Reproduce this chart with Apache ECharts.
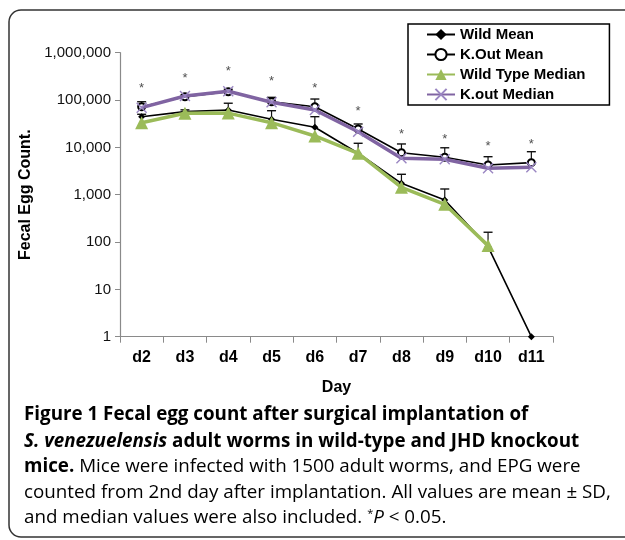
<!DOCTYPE html>
<html>
<head>
<meta charset="utf-8">
<script src="https://cdn.jsdelivr.net/npm/echarts@6/dist/echarts.min.js"></script>
<style>
html,body{margin:0;padding:0;background:#fff;}
#chart{width:625px;height:540px;}
</style>
</head>
<body>
<div id="chart"></div>
<script>
const days = ['d2','d3','d4','d5','d6','d7','d8','d9','d10','d11'];
const wildMean   = [44500, 56800, 61600, 39200, 26600, 7500, 1740, 773, 80, 1];
const koMean     = [72000, 117000, 150000, 92000, 72000, 24400, 7700, 6170, 4250, 4750];
const wildMedian = [33200, 52500, 53000, 33200, 17400, 7500, 1435, 627, 84, null];
const koMedian   = [69000, 122000, 153000, 90000, 61600, 21400, 5870, 5600, 3610, 3800];
// upper ends of the SD error bars (mean + SD)
const wildMeanTop = [50000, 62000, 85600, 59500, 44500, 12200, 2700, 1320, 161, null];
const koMeanTop   = [92000, 128000, 169000, 114000, 105000, 31200, 11800, 9800, 6350, 8100];
// positions of the significance asterisks
const starLevel   = [203000, 333000, 460000, 284000, 203000, 67000, 21700, 17100, 12400, 13400];
const yTicks = [1, 10, 100, 1000, 10000, 100000, 1000000];

const chart = echarts.init(document.getElementById('chart'), null, {renderer:'canvas'});

function errData(mean, top){
  const out = [];
  mean.forEach((m,i)=>{ if(m!=null && top[i]!=null) out.push([i, m, top[i]]); });
  return out;
}
function errRender(params, api){
  const p1 = api.coord([api.value(0), api.value(1)]);
  const p2 = api.coord([api.value(0), api.value(2)]);
  return {type:'group', children:[
    {type:'line', shape:{x1:p1[0],y1:p1[1],x2:p2[0],y2:p2[1]}, style:{stroke:'#111',lineWidth:1.2}},
    {type:'line', shape:{x1:p2[0]-4.5,y1:p2[1],x2:p2[0]+4.5,y2:p2[1]}, style:{stroke:'#111',lineWidth:1.4}}
  ]};
}

const capFont = '"Open Sans", "Noto Sans", sans-serif';
const capY = [415, 441.5, 467, 492.5, 518];
const capSize = 18.8;
function capLine(text, y, rich){
  return {type:'text', x:24, y:y, style:{text:text, rich:rich, verticalAlign:'middle', align:'left'}, z:10};
}
const richBase = {
  b:{fontFamily:capFont, fontWeight:'bold', fontSize:capSize, color:'#231f20'},
  bi:{fontFamily:capFont, fontWeight:'bold', fontStyle:'italic', fontSize:capSize, color:'#231f20'},
  r:{fontFamily:capFont, fontWeight:'normal', fontSize:capSize, color:'#444'},
  ri:{fontFamily:capFont, fontWeight:'normal', fontStyle:'italic', fontSize:capSize, color:'#444'},
  sup:{fontFamily:capFont, fontSize:11, color:'#444', verticalAlign:'top', padding:[0,0,9,0]}
};

const option = {
  animation:false,
  backgroundColor:'#fff',
  grid:{left:120, right:72, top:52.7, bottom:203.3},
  legend:{
    orient:'vertical', left:408, top:24,
    data:['Wild Mean','K.Out Mean','Wild Type Median','K.out Median'],
    itemWidth:28, itemHeight:14, itemGap:5,
    padding:[3,24,3,18],
    borderColor:'#000', borderWidth:1.5, backgroundColor:'#fff',
    textStyle:{fontFamily:'"Liberation Sans", Arial, sans-serif', fontWeight:'bold', fontSize:15, color:'#000'}
  },
  xAxis:{
    type:'category', data:days, boundaryGap:true,
    name:'Day', nameLocation:'middle', nameGap:43,
    nameTextStyle:{fontFamily:'"Liberation Sans", Arial, sans-serif', fontWeight:'bold', fontSize:16, color:'#000'},
    axisLine:{show:true, lineStyle:{color:'#8a8a8a', width:1.2}},
    axisTick:{show:true, length:6, alignWithLabel:false, lineStyle:{color:'#8a8a8a'}},
    axisLabel:{margin:13, fontFamily:'"Liberation Sans", Arial, sans-serif', fontWeight:'bold', fontSize:16, color:'#000'},
    splitLine:{show:false}
  },
  yAxis:{
    type:'log', logBase:10, min:1, max:1000000,
    name:'Fecal Egg Count.', nameLocation:'middle', nameGap:77, nameRotate:90,
    nameTextStyle:{fontFamily:'"Liberation Sans", Arial, sans-serif', fontWeight:'bold', fontSize:16, color:'#000'},
    axisLine:{show:true, lineStyle:{color:'#8a8a8a', width:1.2}},
    axisTick:{show:true, length:5, lineStyle:{color:'#8a8a8a'}},
    minorTick:{show:false},
    splitLine:{show:false},
    axisLabel:{margin:9, fontFamily:'"Liberation Sans", Arial, sans-serif', fontSize:15, color:'#111',
      formatter:function(v){ const r = Math.round(v); return yTicks.indexOf(r)>=0 ? r.toLocaleString('en-US') : ''; }}
  },
  series:[
    {type:'custom', name:'wildErr', renderItem:errRender, data:errData(wildMean, wildMeanTop), encode:{x:0,y:[1,2]}, z:1, silent:true},
    {type:'custom', name:'koErr', renderItem:errRender, data:errData(koMean, koMeanTop), encode:{x:0,y:[1,2]}, z:1, silent:true},
    {type:'line', name:'Wild Mean', data:wildMean, symbol:'diamond', symbolSize:7,
      itemStyle:{color:'#000'}, lineStyle:{color:'#000', width:1.6}, z:2},
    {type:'line', name:'K.Out Mean', data:koMean, symbol:'emptyCircle', symbolSize:7,
      itemStyle:{color:'#000', borderColor:'#000', borderWidth:1.4}, lineStyle:{color:'#000', width:1.6}, z:3},
    {type:'line', name:'Wild Type Median', data:wildMedian, symbol:'triangle', symbolSize:13,
      itemStyle:{color:'#9bbb59'}, lineStyle:{color:'#9bbb59', width:3.5}, z:4},
    {type:'line', name:'K.out Median', data:koMedian, symbol:'path://M0,0L10,10M10,0L0,10', symbolSize:10,
      itemStyle:{color:'rgba(0,0,0,0)', borderColor:'#9a86c2', borderWidth:1.4}, lineStyle:{color:'#8064a2', width:3.5}, z:5},
    {type:'scatter', name:'stars', data:starLevel.map((v,i)=>[i,v]), symbolSize:1,
      itemStyle:{color:'rgba(0,0,0,0)'}, silent:true,
      label:{show:true, position:'inside', formatter:'*', offset:[0,3], fontFamily:'"Liberation Sans", Arial, sans-serif', fontSize:13, color:'#222'}, z:6}
  ],
  graphic:[
    {type:'rect', shape:{x:9, y:10, width:720, height:527, r:12}, style:{fill:'none', stroke:'#333', lineWidth:1.5}, z:0, silent:true},
    capLine('{b|Figure 1 Fecal egg count after surgical implantation of}', capY[0], richBase),
    capLine('{bi|S. venezuelensis}{b| adult worms in wild-type and JHD knockout}', capY[1], richBase),
    capLine('{b|mice.}{r| Mice were infected with 1500 adult worms, and EPG were}', capY[2], richBase),
    capLine('{r|counted from 2nd day after implantation. All values are mean ± SD,}', capY[3], richBase),
    capLine('{r|and median values were also included. }{sup|*}{ri|P}{r| < 0.05.}', capY[4], richBase)
  ]
};
chart.setOption(option);
</script>
</body>
</html>
